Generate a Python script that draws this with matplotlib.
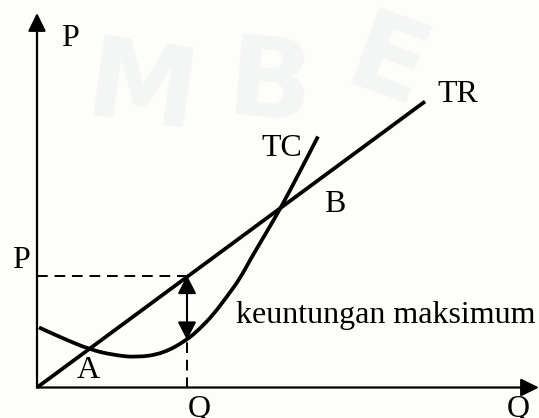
import matplotlib.pyplot as plt
from matplotlib.path import Path
from matplotlib.patches import PathPatch

# data (in pixel-like units from the origin)
tc_q = [2, 26, 53, 76, 100, 126, 150, 163, 176, 190, 203, 213, 230, 245, 263, 281]
tc_c = [60, 49, 38, 32.5, 30, 34, 47.5, 59, 72.5, 91, 109, 127.5, 156, 182, 216, 251]
tr_q = [0, 388]
tr_r = [0, 286]
q_opt = 150
p_opt = 112
tc_at_q = 47.5

plt.rcParams['font.family'] = ['Liberation Serif', 'DejaVu Serif']
fs = 23
bg = '#fdfdf9'

fig = plt.figure(figsize=(5.39, 4.18), dpi=100, facecolor=bg)
ax = fig.add_axes([0, 0, 1, 1])
ax.set_facecolor(bg)
ax.set_xlim(-37, 502)
ax.set_ylim(-30.5, 387.5)
ax.axis('off')

# faint watermark
wm = dict(fontsize=80, fontweight='bold', color='#f4f5f5', family='DejaVu Sans',
          ha='center', va='center', zorder=0)
ax.text(105, 295, 'M', rotation=-8, **wm)
ax.text(233, 300, 'B', rotation=-5, **wm)
ax.text(350, 320, 'E', rotation=-20, **wm)

# axes with arrows
arr = dict(arrowstyle='-|>,head_length=0.55,head_width=0.27', color='black',
           lw=1.6, mutation_scale=20, shrinkA=0, shrinkB=0)
ax.annotate('', xy=(0, 374.5), xytext=(0, 0), arrowprops=arr)
ax.annotate('', xy=(502, 0), xytext=(0, 0), arrowprops=arr)

# TR line
ax.plot(tr_q, tr_r, color='black', lw=2.7, solid_capstyle='butt')

# TC curve: read points used as control points of a smooth quadratic path
pts = list(zip(tc_q, tc_c))
verts = [pts[0]]
codes = [Path.MOVETO]
for i in range(1, len(pts) - 1):
    nxt = pts[i + 1] if i + 1 == len(pts) - 1 else (
        (pts[i][0] + pts[i + 1][0]) / 2, (pts[i][1] + pts[i + 1][1]) / 2)
    verts += [pts[i], nxt]
    codes += [Path.CURVE3, Path.CURVE3]
ax.add_patch(PathPatch(Path(verts, codes), fill=False, edgecolor='black',
                       lw=2.7, capstyle='butt'))

# dashed guides
ax.plot([0, q_opt], [p_opt, p_opt], color='black', lw=1.4, dashes=(5.5, 3.5))
ax.plot([q_opt, q_opt], [0, tc_at_q], color='black', lw=1.4, dashes=(5.5, 3.5))

# profit arrow
arr2 = dict(arrowstyle='<|-|>,head_length=0.55,head_width=0.28', color='black',
            lw=1.5, mutation_scale=20, shrinkA=0, shrinkB=0)
ax.annotate('', xy=(q_opt, p_opt), xytext=(q_opt, tc_at_q), arrowprops=arr2)

# labels
ax.text(24, 341, 'P', fontsize=fs, va='baseline')
ax.text(-25, 119.5, 'P', fontsize=fs, va='baseline')
ax.text(400, 285, 'TR', fontsize=fs, va='baseline')
ax.text(224.5, 231, 'TC', fontsize=fs, va='baseline')
ax.text(287, 175, 'B', fontsize=fs, va='baseline')
ax.text(39.5, 9, 'A', fontsize=fs, va='baseline')
ax.text(151, -29.5, 'Q', fontsize=fs, va='baseline')
ax.text(469.5, -29.5, 'Q', fontsize=fs, va='baseline')
ax.text(198.5, 64, 'keuntungan maksimum', fontsize=fs, va='baseline')

fig.savefig('out.png', dpi=100, facecolor=fig.get_facecolor())
